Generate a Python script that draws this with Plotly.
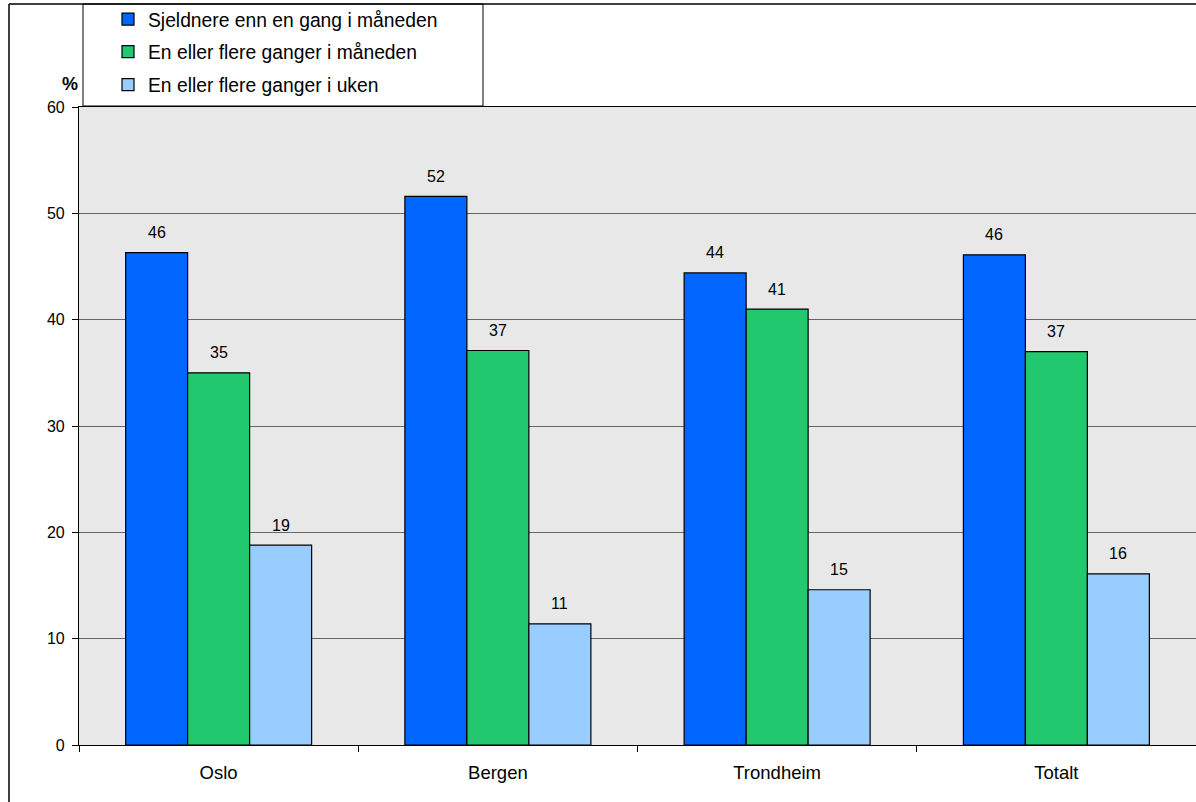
import plotly.graph_objects as go

categories = ["Oslo", "Bergen", "Trondheim", "Totalt"]
series_names = [
    "Sjeldnere enn en gang i måneden",
    "En eller flere ganger i måneden",
    "En eller flere ganger i uken",
]
sjeldnere = [46.3, 51.6, 44.4, 46.1]
maaned = [35.0, 37.1, 41.0, 37.0]
uke = [18.8, 11.4, 14.6, 16.1]
colors = ["#0066FF", "#22C86E", "#99CCFF"]
y_ticks = [0, 10, 20, 30, 40, 50, 60]

W, H = 1196, 802
L, R, T, B = 79, 0, 107, 57
pw, ph = W - L - R, H - T - B

def px_x(x):
    return (x - L) / pw

def px_y(y):
    return (H - B - y) / ph

FONT = "Liberation Sans, Arial, sans-serif"

fig = go.Figure()
legends = ["legend", "legend2", "legend3"]
for name, vals, col, lg in zip(series_names, [sjeldnere, maaned, uke], colors, legends):
    fig.add_trace(go.Bar(
        x=categories, y=vals, name=name,
        marker=dict(color=col, line=dict(color="#000000", width=1.2)),
        legend=lg, offsetgroup=name, showlegend=True,
    ))

# value labels
annotations = []
for i, vals in enumerate([sjeldnere, maaned, uke]):
    for j, v in enumerate(vals):
        annotations.append(dict(
            x=j, y=v, xref="x", yref="y", text=f"{round(v):d}",
            showarrow=False, yshift=20, xshift=(i - 1) * 62,
            font=dict(family=FONT, size=16, color="#000000"),
        ))
annotations.append(dict(
    x=px_x(60), y=px_y(72), xref="paper", yref="paper", text="<b>%</b>",
    showarrow=False, font=dict(family=FONT, size=18, color="#000000"),
))

leg_common = dict(
    bgcolor="rgba(0,0,0,0)", borderwidth=0,
    font=dict(family=FONT, size=19.3, color="#000000"),
    xanchor="left", yanchor="middle", itemclick=False, itemdoubleclick=False,
)
legend_y = [19, 52, 85]
lg_layout = {}
for lg, ly in zip(legends, legend_y):
    lg_layout[lg] = dict(x=px_x(108), y=px_y(ly), **leg_common)

shapes = [
    # outer chart border (top and left)
    dict(type="line", xref="paper", yref="paper", x0=px_x(9), x1=px_x(W + 5),
         y0=px_y(4), y1=px_y(4), line=dict(color="#000000", width=1.5)),
    dict(type="line", xref="paper", yref="paper", x0=px_x(9), x1=px_x(9),
         y0=px_y(4), y1=px_y(H + 5), line=dict(color="#000000", width=1.5)),
    # legend box
    dict(type="rect", xref="paper", yref="paper", x0=px_x(83), x1=px_x(483),
         y0=px_y(106), y1=px_y(4), line=dict(color="#000000", width=1),
         fillcolor="rgba(0,0,0,0)"),
]

fig.update_layout(
    width=W, height=H,
    margin=dict(l=L, r=R, t=T, b=B, pad=0),
    paper_bgcolor="#FFFFFF", plot_bgcolor="#E8E8E8",
    barmode="group", bargap=0.334, bargroupgap=0, showlegend=True,
    font=dict(family=FONT, size=18, color="#000000"),
    annotations=annotations, shapes=shapes,
    **lg_layout,
)
fig.update_yaxes(
    range=[0, 60], tickvals=y_ticks, showgrid=True, gridcolor="#666666", gridwidth=1,
    showline=True, linecolor="#000000", linewidth=1.2, mirror=True,
    ticks="outside", ticklen=6, tickcolor="#000000", ticklabelstandoff=4,
    tickfont=dict(family=FONT, size=16), zeroline=False,
)
fig.update_xaxes(
    showline=True, linecolor="#000000", linewidth=1.2, mirror=True,
    ticks="outside", ticklen=6, tickcolor="#000000", tickson="boundaries",
    ticklabelstandoff=11,
    tickfont=dict(family=FONT, size=18.5), showgrid=False,
)

fig.write_html(
    "out.html",
    config={"displayModeBar": False},
    post_script="document.body.style.margin='0';document.body.style.overflow='hidden';",
)
